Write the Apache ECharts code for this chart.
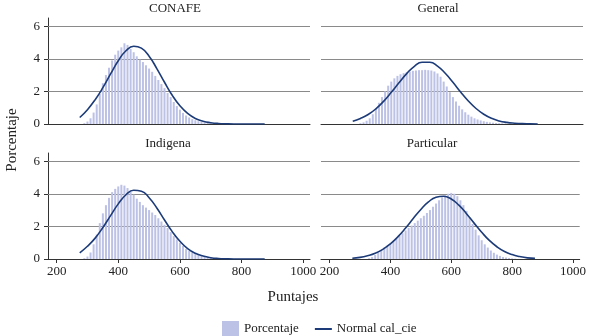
<!DOCTYPE html>
<html>
<head>
<meta charset="utf-8">
<script src="https://cdn.jsdelivr.net/npm/echarts@6/dist/echarts.min.js"></script>
<style>
html, body { margin: 0; padding: 0; background: #fff; }
#chart { width: 589px; height: 336px; }
</style>
</head>
<body>
<div id="chart"></div>
<script>
// histogram bins (score, bin width 10) and the percentage in each bin
var bins = [290, 300, 310, 320, 330, 340, 350, 360, 370, 380, 390, 400, 410, 420, 430, 440, 450, 460, 470, 480,
    490, 500, 510, 520, 530, 540, 550, 560, 570, 580, 590, 600, 610, 620, 630, 640, 650, 660, 670, 680,
    690, 700, 710, 720, 730, 740, 750, 760, 770, 780, 790, 800, 810];
var pctConafe = [0.05, 0.15, 0.35, 0.7, 1.2, 1.85, 2.5, 3.0, 3.45, 3.9, 4.25, 4.5, 4.7, 4.95, 4.85, 4.6, 4.4, 4.15, 3.95, 3.8,
    3.6, 3.4, 3.2, 2.95, 2.7, 2.45, 2.2, 1.9, 1.65, 1.35, 1.1, 0.88, 0.68, 0.52, 0.4, 0.3, 0.23, 0.17, 0.12, 0.09,
    0.07, 0.05, 0.04, 0.03, 0.02, 0.02, 0.01, 0, 0, 0, 0, 0, 0];
var pctGeneral = [0, 0.05, 0.1, 0.2, 0.35, 0.6, 0.95, 1.3, 1.65, 2.0, 2.35, 2.6, 2.8, 2.95, 3.05, 3.12, 3.18, 3.22, 3.26, 3.28,
    3.3, 3.3, 3.32, 3.3, 3.28, 3.22, 3.1, 2.9, 2.6, 2.3, 1.95, 1.65, 1.38, 1.12, 0.9, 0.72, 0.57, 0.45, 0.35, 0.28,
    0.22, 0.17, 0.13, 0.1, 0.08, 0.06, 0.05, 0.04, 0.03, 0.02, 0.01, 0.01, 0];
var pctIndigena = [0.05, 0.15, 0.4, 0.9, 1.5, 2.2, 2.8, 3.3, 3.75, 4.1, 4.3, 4.45, 4.55, 4.5, 4.35, 4.15, 3.95, 3.7, 3.5, 3.3,
    3.15, 3.0, 2.85, 2.7, 2.5, 2.3, 2.1, 1.9, 1.65, 1.4, 1.2, 1.0, 0.8, 0.62, 0.5, 0.4, 0.33, 0.27, 0.21, 0.16,
    0.12, 0.09, 0.07, 0.05, 0.04, 0.03, 0.02, 0.01, 0, 0, 0, 0, 0];
var pctParticular = [0, 0, 0, 0, 0.05, 0.12, 0.25, 0.4, 0.55, 0.7, 0.82, 0.95, 1.08, 1.25, 1.42, 1.58, 1.75, 1.9, 2.05, 2.2,
    2.35, 2.5, 2.65, 2.82, 3.0, 3.2, 3.4, 3.6, 3.78, 3.9, 4.0, 4.05, 4.0, 3.85, 3.6, 3.3, 2.95, 2.55, 2.15, 1.8,
    1.45, 1.15, 0.9, 0.7, 0.52, 0.38, 0.27, 0.19, 0.13, 0.09, 0.06, 0.04, 0.02];

// fitted normal curve, every 25 points
var curveX = [275, 300, 325, 350, 375, 400, 425, 450, 475, 500, 525, 550, 575, 600, 625, 650, 675, 700, 725, 750,
    775, 800, 825, 850, 875];
var normConafe = [0.40, 0.88, 1.49, 2.23, 3.07, 3.88, 4.49, 4.77, 4.65, 4.16, 3.40, 2.56, 1.76, 1.12, 0.65, 0.34, 0.17, 0.08, 0.03, 0.01,
    0, 0, 0, 0, 0];
var normGeneral = [0.17, 0.34, 0.58, 0.93, 1.39, 1.94, 2.53, 3.09, 3.54, 3.79, 3.79, 3.55, 3.11, 2.56, 1.96, 1.41, 0.95, 0.60, 0.35, 0.19,
    0.10, 0.05, 0.02, 0.01, 0];
var normIndigena = [0.38, 0.78, 1.28, 1.93, 2.66, 3.38, 3.94, 4.22, 4.16, 3.76, 3.13, 2.39, 1.68, 1.09, 0.64, 0.35, 0.18, 0.08, 0.03, 0.01,
    0, 0, 0, 0, 0];
var normParticular = [0.05, 0.10, 0.20, 0.35, 0.59, 0.93, 1.37, 1.90, 2.48, 3.04, 3.50, 3.79, 3.85, 3.68, 3.30, 2.78, 2.20, 1.64, 1.14, 0.75,
    0.46, 0.27, 0.15, 0.07, 0.04];

var panels = ['CONAFE', 'General', 'Indigena', 'Particular'];
var pcts = [pctConafe, pctGeneral, pctIndigena, pctParticular];
var norms = [normConafe, normGeneral, normIndigena, normParticular];
var xTicks = [200, 400, 600, 800, 1000];
var yTicks = [0, 2, 4, 6];

var FONT = 'Liberation Serif';
var barColor = '#bcc1e6';
var lineColor = '#1c3b78';

function pairs(xs, ys) {
    return xs.map(function (x, i) { return [x, ys[i]]; });
}

var gridPos = [
    { left: 48, top: 18, width: 262, height: 106 },
    { left: 321, top: 18, width: 262, height: 106 },
    { left: 48, top: 153, width: 262, height: 106 },
    { left: 321, top: 153, width: 262, height: 106 }
];
var titlePos = [[175, 9], [438, 9], [168, 144], [432, 144]];

var grids = [], xAxes = [], yAxes = [], series = [], graphics = [];
panels.forEach(function (name, i) {
    var isLeft = i % 2 === 0;
    var isBottom = i >= 2;
    grids.push(gridPos[i]);
    xAxes.push({
        type: 'value', gridIndex: i, min: 172, max: 1022,
        axisLine: { show: true, onZero: false, lineStyle: { color: '#333', width: 1 } },
        axisTick: { show: isBottom, customValues: xTicks, length: 4, lineStyle: { color: '#333' } },
        axisLabel: {
            show: isBottom, customValues: xTicks, margin: 6,
            formatter: function (v) { return String(v); },
            color: '#222', fontFamily: FONT, fontSize: 13
        },
        splitLine: { show: false }
    });
    yAxes.push({
        type: 'value', gridIndex: i, min: 0, max: 6.5, interval: 2,
        axisLine: { show: isLeft, lineStyle: { color: '#333', width: 1 } },
        axisTick: { show: isLeft, customValues: yTicks, length: 4, lineStyle: { color: '#333' } },
        axisLabel: {
            show: isLeft, customValues: yTicks, margin: 8,
            color: '#222', fontFamily: FONT, fontSize: 13
        },
        splitLine: { show: false }
    });
    series.push({
        name: 'Porcentaje', type: 'bar', xAxisIndex: i, yAxisIndex: i,
        barWidth: 2, itemStyle: { color: barColor },
        data: pairs(bins, pcts[i]),
        markLine: {
            silent: true, symbol: 'none', animation: false, z: 1,
            label: { show: false },
            lineStyle: { color: '#8a8a8a', width: 1, type: 'solid' },
            data: yTicks.slice(1).map(function (v) { return { yAxis: v }; })
        }
    });
    series.push({
        name: 'Normal cal_cie', type: 'line', xAxisIndex: i, yAxisIndex: i,
        smooth: true, symbol: 'none',
        lineStyle: { color: lineColor, width: 1.6 }, itemStyle: { color: lineColor },
        data: pairs(curveX, norms[i])
    });
    graphics.push({
        type: 'text', x: titlePos[i][0], y: titlePos[i][1],
        style: { text: name, align: 'center', verticalAlign: 'middle', fontFamily: FONT, fontSize: 13, fill: '#222' }
    });
});

graphics.push({
    type: 'text', x: 12, y: 140, rotation: Math.PI / 2,
    style: { text: 'Porcentaje', align: 'center', verticalAlign: 'middle', fontFamily: FONT, fontSize: 15, fill: '#222' }
});
graphics.push({
    type: 'text', x: 293, y: 297,
    style: { text: 'Puntajes', align: 'center', verticalAlign: 'middle', fontFamily: FONT, fontSize: 15, fill: '#222' }
});

var myChart = echarts.init(document.getElementById('chart'), null, { renderer: 'canvas' });
var option = {
    animation: false,
    backgroundColor: '#fff',
    grid: grids,
    xAxis: xAxes,
    yAxis: yAxes,
    legend: {
        left: 217, top: 316, itemGap: 16, itemWidth: 17, itemHeight: 16,
        textStyle: { fontFamily: FONT, fontSize: 13, color: '#222' },
        data: [
            { name: 'Porcentaje', icon: 'rect' },
            { name: 'Normal cal_cie', icon: 'path://M0,0 L17,0 L17,2 L0,2 Z' }
        ]
    },
    graphic: graphics,
    series: series
};
myChart.setOption(option);
</script>
</body>
</html>
